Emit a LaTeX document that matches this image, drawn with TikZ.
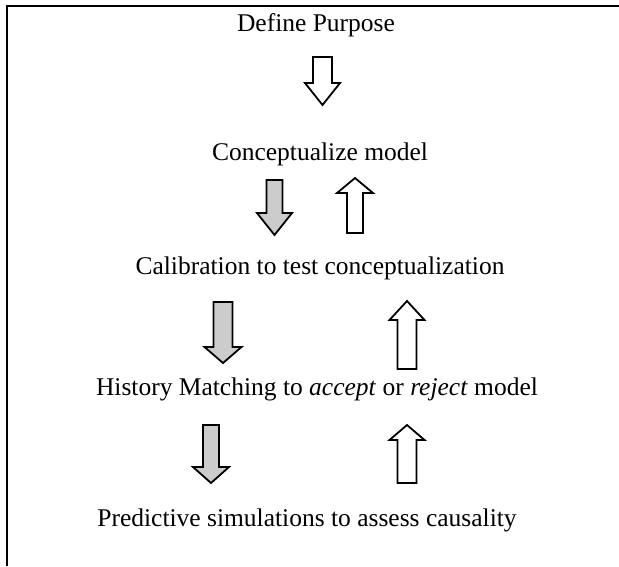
\documentclass[tikz,border=0pt]{standalone}
\usepackage{fontspec}
\setmainfont{Liberation Serif}
\newcommand\blockarrow[7]{%
  \draw[#7] ({#1-#5},#2) -- ({#1+#5},#2) -- ({#1+#5},#3) -- ({#1+#6},#3) -- (#1,#4) -- ({#1-#6},#3) -- ({#1-#5},#3) -- cycle;}
\tikzset{
  lbl/.style={anchor=base, inner sep=0pt, font=\fontsize{25.5}{30}\selectfont},
  hollow/.style={draw=black, line width=1.8pt, fill=white, line join=miter},
  shaded/.style={draw=black, line width=1.8pt, fill=black!20, line join=miter},
  frame/.style={draw=black, line width=2pt}
}
\begin{document}
\begin{tikzpicture}[x=1pt,y=-1pt]
\useasboundingbox (0,0) rectangle (619,566);
\draw[frame] (6.5,566) -- (6.5,5.5) -- (619,5.5);
\node[lbl] (def) at (316,31) {Define Purpose};
\node[lbl] (con) at (320,160) {Conceptualize model};
\node[lbl] (cal) at (320,274) {Calibration to test conceptualization};
\node[lbl] (his) at (317,395) {History Matching to \textit{accept} or \textit{reject} model};
\node[lbl] (pre) at (307,526) {Predictive simulations to assess causality};
\blockarrow{322.5}{57}{83}{105}{9.5}{17.5}{hollow}
\blockarrow{274.5}{180}{213}{235}{8}{17.5}{shaded}
\blockarrow{355}{233}{193}{178}{8}{18}{hollow}
\blockarrow{223}{302}{347}{363}{9.5}{18.5}{shaded}
\blockarrow{407}{369}{320}{301}{9.5}{17.5}{hollow}
\blockarrow{211}{425}{467}{483}{8}{18}{shaded}
\blockarrow{407}{483}{440}{425}{9.5}{17.5}{hollow}
\end{tikzpicture}
\end{document}
